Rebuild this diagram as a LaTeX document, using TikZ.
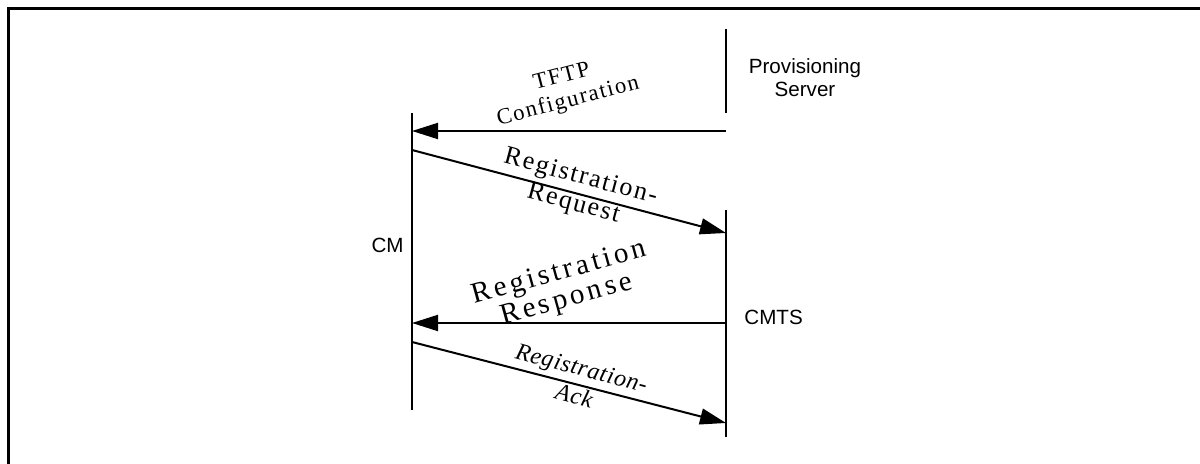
\documentclass[tikz,border=0pt]{standalone}
\usepackage{fontspec}
\newfontfamily\arialfont{Liberation Sans}
\newfontfamily\lblfont[LetterSpace=7]{Liberation Serif}
\newfontfamily\lblwide[LetterSpace=12]{Liberation Serif}
\newfontfamily\lblital[LetterSpace=3]{Liberation Serif}
\usetikzlibrary{arrows.meta}
\tikzset{
  lifeline/.style={line width=1pt},
  msg/.style={line width=1pt,-{Triangle[length=13pt,width=8pt]}},
  actor/.style={font=\arialfont\fontsize{10.3}{11.5}\selectfont,align=center,inner sep=0pt},
  msglabel/.style={align=center,inner sep=0pt},
  frame/.style={line width=1.5pt}
}
\begin{document}
\begin{tikzpicture}[x=0.5pt,y=-0.5pt]
\useasboundingbox (0,0) rectangle (1200,464);
% frame (top and left edges)
\coordinate (fTR) at (1200,9);
\coordinate (fTL) at (8,9);
\coordinate (fBL) at (8,464);
\draw[frame] (fTR) -- (fTL) -- (fBL);
% lifeline coordinates
\coordinate (cmTop) at (412,113);
\coordinate (cmBot) at (412,410);
\coordinate (psTop) at (726,29);
\coordinate (psBot) at (726,113);
\coordinate (cmtsTop) at (726,210);
\coordinate (cmtsBot) at (726,437);
\draw[lifeline] (cmTop) -- (cmBot);
\draw[lifeline] (psTop) -- (psBot);
\draw[lifeline] (cmtsTop) -- (cmtsBot);
% message end points
\coordinate (m1s) at (726,131);
\coordinate (m1e) at (412,131);
\coordinate (m2s) at (412,150);
\coordinate (m2e) at (726,233);
\coordinate (m3s) at (726,323);
\coordinate (m3e) at (412,323);
\coordinate (m4s) at (412,342);
\coordinate (m4e) at (726,423);
\draw[msg] (m1s) -- (m1e);
\draw[msg] (m2s) -- (m2e);
\draw[msg] (m3s) -- (m3e);
\draw[msg] (m4s) -- (m4e);
% actor labels
\node[actor,anchor=east] (cm) at (404,245) {CM};
\node[actor,anchor=west] (cmts) at (744,317) {CMTS};
\node[actor] (ps) at (805,78) {Provisioning\\Server};
% message labels
\node[msglabel,rotate=14.5,font=\lblfont\fontsize{11.3}{12.6}\selectfont] (l1) at (565,90) {TFTP\\Configuration};
\node[msglabel,rotate=-15,font=\lblfont\fontsize{13}{13.9}\selectfont] (l2) at (577,191) {Registration-\\Request};
\node[msglabel,rotate=15.5,font=\lblwide\fontsize{14.5}{13.9}\selectfont] (l3) at (563,287) {Registration\\Response};
\node[msglabel,rotate=-15,font=\lblital\itshape\fontsize{12}{14.5}\selectfont] (l4) at (578,382) {Registration-\\Ack};
\end{tikzpicture}
\end{document}
